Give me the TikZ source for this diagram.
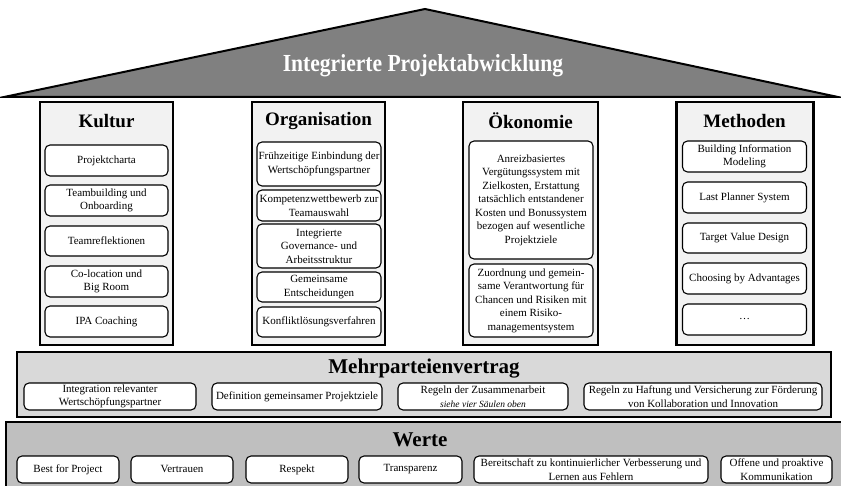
\documentclass[tikz,border=0pt]{standalone}
\usepackage{fontspec}
\usepackage{graphicx}
\setmainfont{Liberation Serif}
\definecolor{roofgray}{HTML}{808080}
\definecolor{pillarfill}{HTML}{F2F2F2}
\definecolor{contractfill}{HTML}{D9D9D9}
\definecolor{valuesfill}{HTML}{BFBFBF}
\tikzset{
  pillar/.style={draw, line width=2.4pt, fill=pillarfill, inner sep=0pt},
  band/.style={draw, line width=1.8pt, inner sep=0pt},
  item/.style={draw, line width=1.1pt, rounded corners=5pt, fill=white,
    align=center, inner sep=1pt, font=\rmfamily\fontsize{11}{13.5}\selectfont},
  pillartitle/.style={font=\rmfamily\fontsize{19}{22}\selectfont\bfseries},
  bandtitle/.style={font=\rmfamily\fontsize{21}{24}\selectfont\bfseries},
}
\begin{document}
\begin{tikzpicture}[x=1pt, y=-1pt]
\useasboundingbox (0,0) rectangle (841,486);
\clip (0,0) rectangle (841,486);

% roof
\draw[line width=2pt, fill=roofgray, line join=miter] (4,97) -- (425,9) -- (838,97) -- cycle;
\node[text=white, font=\rmfamily\fontsize{24.5}{28}\selectfont\bfseries] (roof) at (423,66)
  {\scalebox{0.88}[1]{Integrierte Projektabwicklung}};

% pillars
\node[pillar, minimum width=133pt, minimum height=243pt] (kultur) at (106.5,223.5) {};
\node[pillar, minimum width=133pt, minimum height=243pt] (orga) at (318.5,223.5) {};
\node[pillar, minimum width=135pt, minimum height=243pt] (oeko) at (530.5,223.5) {};
\node[pillar, minimum width=137pt, minimum height=243pt] (meth) at (745,223.5) {};

\node[pillartitle] (tkultur) at (106.5,121) {Kultur};
\node[pillartitle] (torga) at (318.5,121) {Organisation};
\node[pillartitle] (toeko) at (530.5,121) {Ökonomie};
\node[pillartitle] (tmeth) at (744.5,121) {Methoden};

% Kultur
\node[item, minimum width=123pt, minimum height=31pt] (k1) at (106.5,160.5) {Projektcharta};
\node[item, minimum width=123pt, minimum height=31pt] (k2) at (106.5,200.5) {Teambuilding und\\Onboarding};
\node[item, minimum width=123pt, minimum height=30pt] (k3) at (106.5,241) {Teamreflektionen};
\node[item, minimum width=123pt, minimum height=31pt] (k4) at (106.5,281.5) {Co-location und\\Big Room};
\node[item, minimum width=123pt, minimum height=31pt] (k5) at (106.5,321.5) {IPA Coaching};

% Organisation
\node[item, minimum width=124pt, minimum height=44pt] (o1) at (319,164) {Frühzeitige Einbindung der\\Wertschöpfungspartner};
\node[item, minimum width=124pt, minimum height=31pt] (o2) at (319,205.5) {Kompetenzwettbewerb zur\\Teamauswahl};
\node[item, minimum width=124pt, minimum height=44pt] (o3) at (319,246) {Integrierte\\Governance- und\\Arbeitsstruktur};
\node[item, minimum width=124pt, minimum height=30pt] (o4) at (319,287) {Gemeinsame\\Entscheidungen};
\node[item, minimum width=124pt, minimum height=30pt] (o5) at (319,322) {Konfliktlösungsverfahren};

% Oekonomie
\node[item, minimum width=124pt, minimum height=118pt] (e1) at (531,200)
  {Anreizbasiertes\\Vergütungssystem mit\\Zielkosten, Erstattung\\tatsächlich entstandener\\Kosten und Bonussystem\\bezogen auf wesentliche\\Projektziele};
\node[item, minimum width=124pt, minimum height=73pt] (e2) at (531,300.5)
  {Zuordnung und gemein-\\same Verantwortung für\\Chancen und Risiken mit\\einem Risiko-\\managementsystem};

% Methoden
\node[item, minimum width=124pt, minimum height=31pt] (m1) at (744.5,156.5) {Building Information\\Modeling};
\node[item, minimum width=124pt, minimum height=31pt] (m2) at (744.5,197.5) {Last Planner System};
\node[item, minimum width=124pt, minimum height=30pt] (m3) at (744.5,238) {Target Value Design};
\node[item, minimum width=124pt, minimum height=31pt] (m4) at (744.5,278.5) {Choosing by Advantages};
\node[item, minimum width=124pt, minimum height=31pt] (m5) at (744.5,319.5) {\dots};

% multi-party contract
\node[band, fill=contractfill, minimum width=814pt, minimum height=65pt] (contract) at (424,384.5) {};
\node[bandtitle] (tcontract) at (424,369) {Mehrparteienvertrag};
\node[item, minimum width=172pt, minimum height=27pt] (c1) at (110,396.5) {Integration relevanter\\Wertschöpfungspartner};
\node[item, minimum width=170pt, minimum height=27pt] (c2) at (297,396.5) {Definition gemeinsamer Projektziele};
\node[item, minimum width=170pt, minimum height=27pt] (c3) at (483,396.5)
  {Regeln der Zusammenarbeit\\{\fontsize{9.5}{10}\selectfont\itshape siehe vier Säulen oben}};
\node[item, minimum width=238pt, minimum height=27pt] (c4) at (703,396.5)
  {Regeln zu Haftung und Versicherung zur Förderung\\von Kollaboration und Innovation};

% values
\node[band, fill=valuesfill, minimum width=844pt, minimum height=74pt] (values) at (428,459) {};
\node[bandtitle] (tvalues) at (420,440) {Werte};
\node[item, minimum width=102pt, minimum height=27pt] (w1) at (68,469.5) {Best for Project};
\node[item, minimum width=102pt, minimum height=27pt] (w2) at (182,469.5) {\raisebox{1.5pt}{Vertrauen}};
\node[item, minimum width=102pt, minimum height=27pt] (w3) at (297,469.5) {Respekt};
\node[item, minimum width=103pt, minimum height=27pt] (w4) at (410.5,469.5) {Transparenz};
\node[item, minimum width=234pt, minimum height=27pt] (w5) at (591,469.5)
  {Bereitschaft zu kontinuierlicher Verbesserung und\\Lernen aus Fehlern};
\node[item, minimum width=111pt, minimum height=27pt] (w6) at (776.5,469.5) {Offene und proaktive\\Kommunikation};
\end{tikzpicture}
\end{document}
